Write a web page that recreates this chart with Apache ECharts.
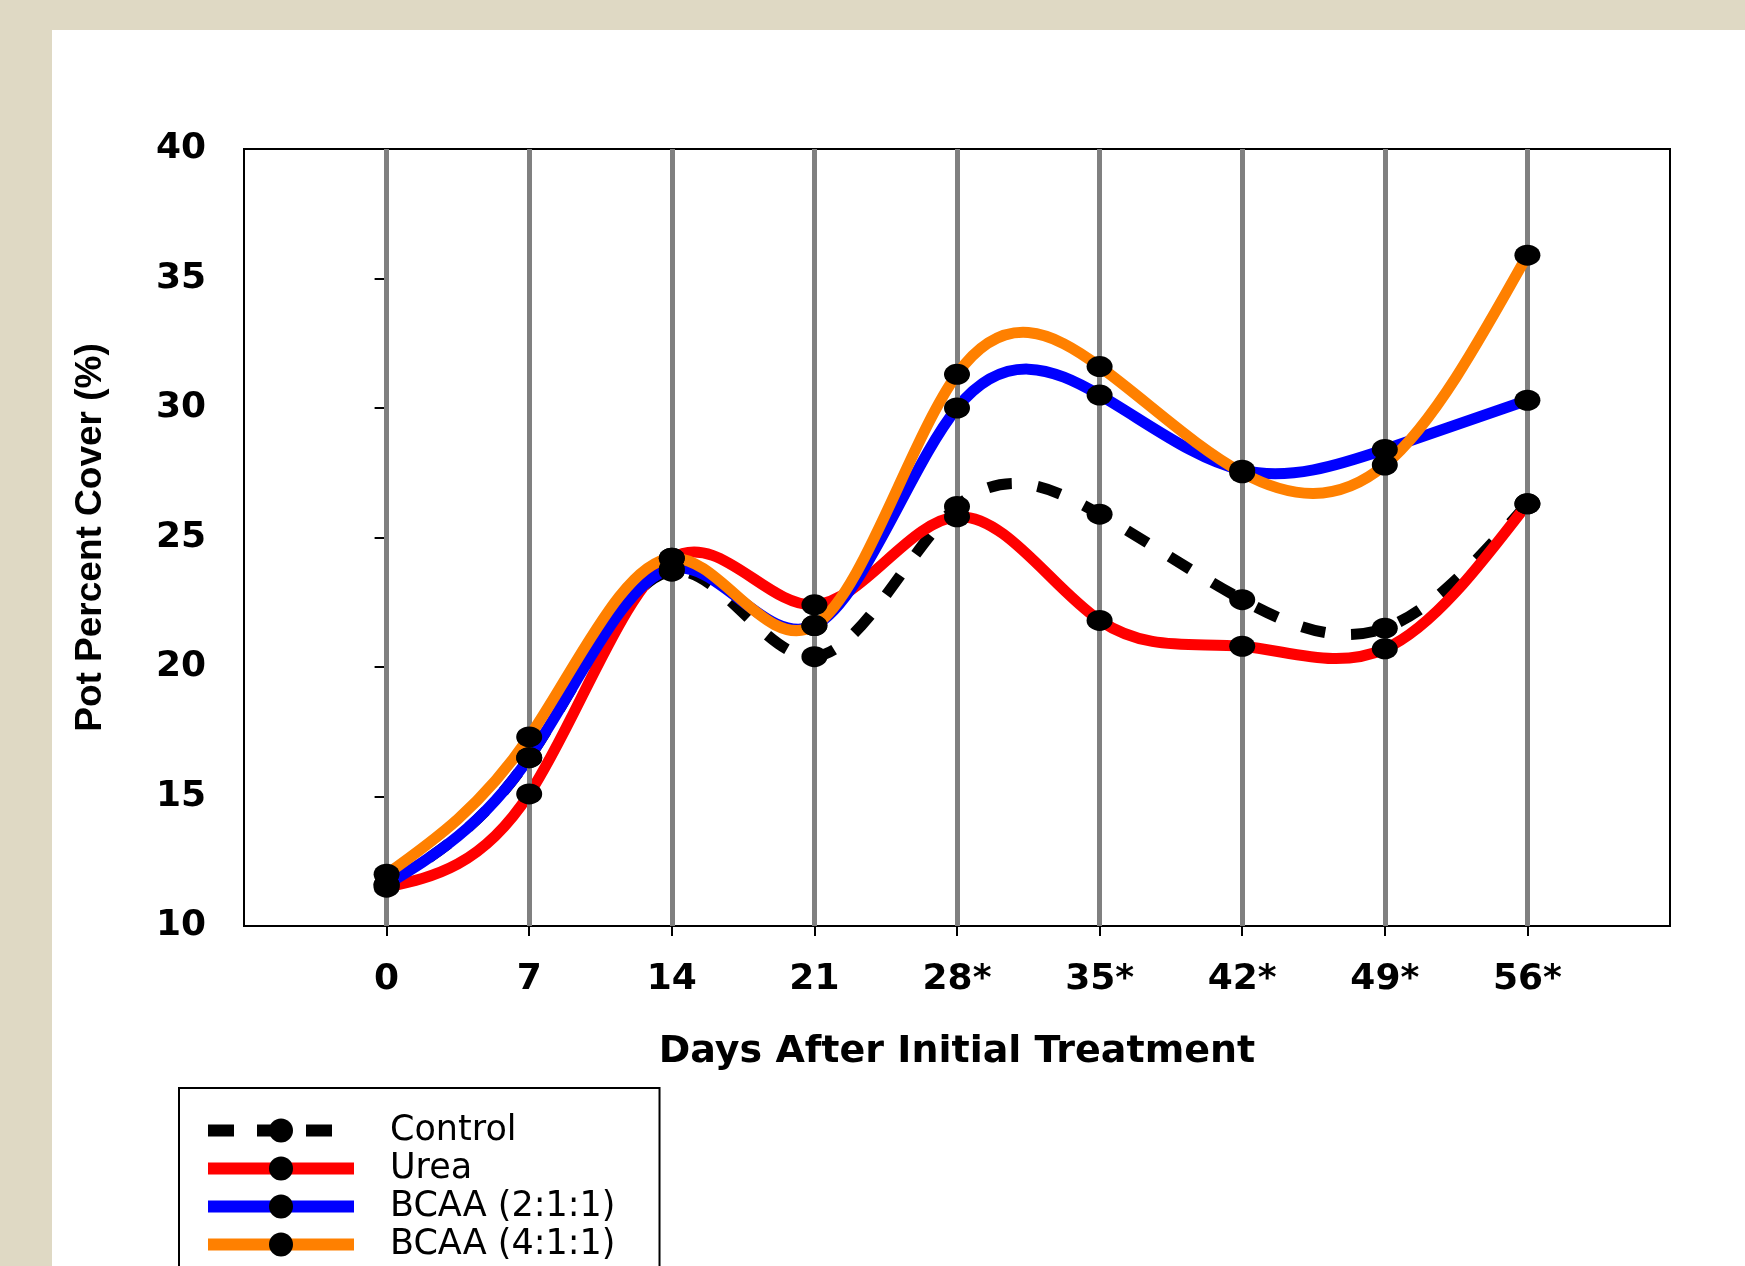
<!DOCTYPE html>
<html><head><meta charset="utf-8">
<script src="https://cdn.jsdelivr.net/npm/echarts@6/dist/echarts.min.js"></script>
<style>
html,body{margin:0;padding:0;background:#DFD9C4;width:1745px;height:1266px;overflow:hidden}
#panel{position:absolute;left:52px;top:30px;right:0;bottom:0;background:#fff}
#chart{position:absolute;left:0;top:0;width:1745px;height:1400px}
</style></head><body>
<div id="panel"></div><div id="chart"></div>
<script>
const days = [0, 7, 14, 21, 28, 35, 42, 49, 56];
const dayLabels = ['0', '7', '14', '21', '28*', '35*', '42*', '49*', '56*'];
const control = [11.6, 16.5, 23.7, 20.4, 26.2, 25.9, 22.6, 21.5, 26.3];
const urea    = [11.5, 15.1, 24.2, 22.4, 25.8, 21.8, 20.8, 20.7, 26.3];
const bcaa211 = [11.6, 16.5, 23.8, 21.6, 30.0, 30.5, 27.6, 28.4, 30.3];
const bcaa411 = [12.0, 17.3, 24.2, 21.6, 31.3, 31.6, 27.5, 27.8, 35.9];
const seriesNames = ['Control', 'Urea', 'BCAA (2:1:1)', 'BCAA (4:1:1)'];
const seriesColors = ['#000000', '#FF0000', '#0000FF', '#FF8000'];
const yMin = 10, yMax = 40, yStep = 5;
const xMin = -7, xMax = 63, xStep = 7;

const chart = echarts.init(document.getElementById('chart'), null, {renderer: 'canvas'});
const toData = vals => days.map((d, i) => [d, vals[i]]);

// natural cubic spline slopes (data space)
function splineSlopes(xs, ys) {
  const n = xs.length - 1;
  const h = [];
  for (let i = 0; i < n; i++) h.push(xs[i + 1] - xs[i]);
  const M = new Array(n + 1).fill(0);
  const a = [], b = [], c = [], d = [];
  for (let i = 1; i < n; i++) {
    a.push(h[i - 1]); b.push(2 * (h[i - 1] + h[i])); c.push(h[i]);
    d.push(6 * ((ys[i + 1] - ys[i]) / h[i] - (ys[i] - ys[i - 1]) / h[i - 1]));
  }
  const m = b.length;
  for (let i = 1; i < m; i++) {
    const w = a[i] / b[i - 1];
    b[i] -= w * c[i - 1]; d[i] -= w * d[i - 1];
  }
  const sol = new Array(m);
  sol[m - 1] = d[m - 1] / b[m - 1];
  for (let i = m - 2; i >= 0; i--) sol[i] = (d[i] - c[i] * sol[i + 1]) / b[i];
  for (let i = 1; i < n; i++) M[i] = sol[i - 1];
  const s = [];
  for (let i = 0; i < n; i++) s.push((ys[i + 1] - ys[i]) / h[i] - h[i] * (2 * M[i] + M[i + 1]) / 6);
  s.push((ys[n] - ys[n - 1]) / h[n - 1] + h[n - 1] * (M[n - 1] + 2 * M[n]) / 6);
  return s;
}

function curveSeries(vals, color, dashed, z) {
  const slopes = splineSlopes(days, vals);
  return {
    type: 'custom', data: toData(vals), z: z, silent: true, animation: false,
    encode: {x: 0, y: 1},
    renderItem: function (params, api) {
      if (params.dataIndex !== 0) return null;
      let p = api.coord([days[0], vals[0]]);
      let path = 'M' + p[0] + ' ' + p[1];
      for (let i = 0; i < days.length - 1; i++) {
        const hh = (days[i + 1] - days[i]) / 3;
        const c1 = api.coord([days[i] + hh, vals[i] + hh * slopes[i]]);
        const c2 = api.coord([days[i + 1] - hh, vals[i + 1] - hh * slopes[i + 1]]);
        const e = api.coord([days[i + 1], vals[i + 1]]);
        path += ' C' + c1[0] + ' ' + c1[1] + ' ' + c2[0] + ' ' + c2[1] + ' ' + e[0] + ' ' + e[1];
      }
      return {
        type: 'path', shape: {pathData: path},
        style: {fill: null, stroke: color, lineWidth: 11, lineDash: dashed ? [24, 26] : null, lineCap: 'butt', lineJoin: 'round'}
      };
    }
  };
}

function markerSeries(name, vals) {
  return {
    name: name, type: 'line', data: toData(vals), z: 10,
    symbol: 'circle', symbolSize: [26, 21], showSymbol: true,
    itemStyle: {color: '#000'},
    lineStyle: {width: 0, opacity: 0},
    emphasis: {disabled: true}, animation: false
  };
}

const option = {
  animation: false,
  backgroundColor: 'transparent',
  grid: {left: 244, right: 75, top: 149, bottom: 474, show: true, borderColor: '#000', borderWidth: 2, backgroundColor: 'transparent'},
  xAxis: {
    type: 'value', min: xMin, max: xMax, interval: xStep,
    name: 'Days After Initial Treatment', nameLocation: 'middle', nameGap: 107,
    nameTextStyle: {fontFamily: 'DejaVu Sans', fontWeight: 'bold', fontSize: 38, color: '#000'},
    axisLine: {show: true, lineStyle: {color: '#000', width: 2}},
    axisTick: {show: true, length: 10, lineStyle: {color: '#000', width: 2}, customValues: days},
    axisLabel: {customValues: days, margin: 36, fontFamily: 'DejaVu Sans', fontWeight: 'bold', fontSize: 36, color: '#000',
      formatter: v => { const i = days.indexOf(v); return i >= 0 ? dayLabels[i] : ''; }},
    splitLine: {show: false}
  },
  yAxis: {
    type: 'value', min: yMin, max: yMax, interval: yStep,
    name: 'Pot Percent Cover (%)', nameLocation: 'middle', nameGap: 135,
    nameTextStyle: {fontFamily: 'Liberation Sans', fontWeight: 'bold', fontSize: 37, color: '#000'},
    axisLine: {show: true, lineStyle: {color: '#000', width: 2}},
    axisTick: {show: true, length: 12, lineStyle: {color: '#000', width: 2}},
    axisLabel: {margin: 38, fontFamily: 'DejaVu Sans', fontWeight: 'bold', fontSize: 36, color: '#000'},
    splitLine: {show: false}
  },
  legend: {
    orient: 'vertical', left: 179, top: 1088,
    data: seriesNames.map((n, i) => ({
      name: n,
      lineStyle: {color: seriesColors[i], width: 12, opacity: 1, type: i === 0 ? [26, 23] : 'solid', cap: 'butt'},
      itemStyle: {color: '#000'}
    })),
    itemWidth: 146, itemHeight: 30, itemGap: 3,
    padding: [25, 44, 40, 23],
    borderColor: '#000', borderWidth: 2, backgroundColor: '#fff',
    selectedMode: false,
    textStyle: {fontFamily: 'DejaVu Sans', fontSize: 35, color: '#000', padding: [0, 0, 0, 31]}
  },
  series: [
    {
      name: 'grid', type: 'line', data: [], z: 1, silent: true, animation: false,
      markLine: {silent: true, symbol: ['none', 'none'], animation: false,
        label: {show: false},
        lineStyle: {color: '#808080', width: 5, type: 'solid'},
        emphasis: {disabled: true},
        data: days.map(d => ({xAxis: d}))}
    },
    curveSeries(control, seriesColors[0], true, 2),
    curveSeries(urea, seriesColors[1], false, 3),
    curveSeries(bcaa211, seriesColors[2], false, 4),
    curveSeries(bcaa411, seriesColors[3], false, 5),
    markerSeries(seriesNames[0], control),
    markerSeries(seriesNames[1], urea),
    markerSeries(seriesNames[2], bcaa211),
    markerSeries(seriesNames[3], bcaa411)
  ]
};
chart.setOption(option);
</script>
</body></html>
